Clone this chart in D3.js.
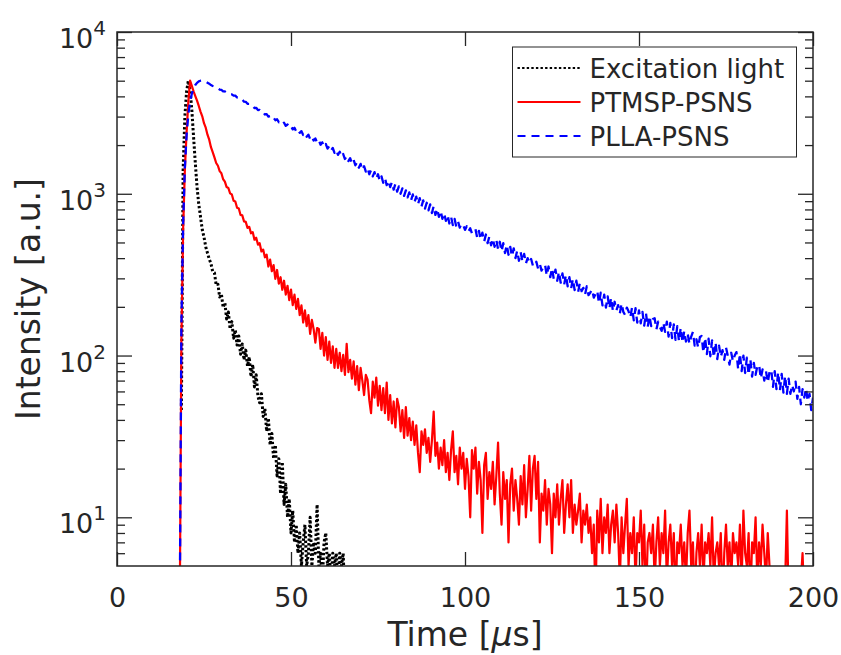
<!DOCTYPE html>
<html>
<head>
<meta charset="utf-8">
<script src="https://cdn.jsdelivr.net/npm/d3@7"></script>
<style>
    body { margin: 0; background: #ffffff; }
    svg text { font-family: "DejaVu Sans", Verdana, sans-serif; fill: #262626; }
</style>
</head>
<body>
<svg id="drawing_region"></svg>
<script>
// sampling of the decay traces (µs)
const sampleStart = 18;
const sampleStep = 0.5;

// intensity [a.u.], one value per sample, starting at sampleStart
const excitation = [
    null, 46, 1400, 3000, 4300, 5000, 4400, 3300, 2250, 1550,
    1100, 860, 720, 600, 540, 470, 430, 395, 370, 330,
    325, 272, 276, 230, 240, 198, 212, 168, 186, 146,
    162, 128, 144, 116, 132, 102, 118, 94, 108, 86,
    98, 74, 88, 64, 76, 56, 51, 58, 42, 47,
    34, 41, 28, 33, 23, 28, 18, 23, 14, 22,
    12, 16, 10, 13, 8, 11, 7, 9, 6, 8,
    5, 7, 9, 5, 6, 10, 5, 7, 6, 12,
    5, 6, 4, 7, 8, 5, 6, 4, 6, 5,
    6, 4, 6, 5, 6, 3
];

const ptmspPsns = [
    2, 120, 600, 1400, 2400, 3700, 5000, 4650, 4300, 4020,
    3760, 3490, 3220, 3010, 2730, 2560, 2320, 2160, 1940, 1810,
    1680, 1550, 1490, 1380, 1340, 1230, 1190, 1100, 1085, 1005,
    990, 905, 895, 820, 810, 740, 735, 675, 670, 615,
    625, 570, 580, 520, 535, 485, 495, 440, 452, 405,
    420, 355, 392, 332, 362, 298, 338, 278, 305, 255,
    290, 238, 270, 220, 256, 205, 238, 194, 224, 178,
    204, 160, 190, 152, 178, 136, 166, 146, 120, 148,
    146, 110, 138, 100, 130, 94, 122, 90, 114, 84,
    110, 84, 104, 80, 101, 76, 118, 79, 94, 72,
    92, 66, 86, 61, 84, 70, 57, 76, 71, 53,
    44, 69, 55, 73, 49, 65, 46, 63, 44, 68,
    40, 57, 38, 52, 36, 54, 48, 34, 46, 31,
    48, 32, 41, 30, 39, 28, 37, 25, 19, 34,
    28, 35, 25, 31, 22, 30, 45, 24, 29, 20,
    27, 21, 30, 19, 25, 17, 26, 34, 19, 24,
    16, 27, 20, 25, 15, 23, 18, 10, 26, 20,
    27, 14, 22, 17, 8, 21, 25, 13, 19, 15,
    22, 12, 18, 29, 14, 9, 19, 13, 17, 7,
    16, 20, 11, 17, 13, 9, 18, 12, 21, 10,
    15, 24, 11, 20, 24, 13, 22, 7, 14, 11,
    17, 9, 15, 12, 6, 14, 10, 16, 9, 13,
    17, 8, 12, 16, 10, 17, 8, 12, 9, 11,
    14, 7, 11, 9, 12, 8, 10, 6, 9, 3,
    11, 7, 13, 6, 10, 8, 12, 6, 9, 11,
    7, 12, 8, 4, 10, 6, 9, 13, 5, 8,
    6, 10, 4, 8, 7, 11, 5, 9, 3, 7,
    8, 6, 9, 4, 7, 10, 5, 8, 6, 11,
    4, 7, 9, 5, 8, 3, 7, 6, 9, 5,
    7, 4, 8, 11, 5, 7, 3, 6, 8, 5,
    9, 4, 7, 6, 8, 5, 10, 4, 6, 7,
    5, 8, 3, 6, 9, 5, 7, 4, 8, 6,
    7, 5, 9, 4, 11, 6, 5, 8, 3, 7,
    6, 10, 4, 7, 5, 9, 6, 4, 8, 5,
    4, 3, 4, 3, 4, 3, 4, 3, 4, 11,
    3, 4, 3, 4, 3, 4, 3, 4, 6, 3,
    4, 3, 4, 3, 4
];

const pllaPsns = [
    2, 150, 650, 1450, 2300, 3100, 3700, 4150, 4480, 4700,
    4850, 4950, 5000, 5020, 4990, 4930, 4860, 4790, 4700, 4640,
    4590, 4500, 4490, 4410, 4390, 4300, 4290, 4210, 4200, 4120,
    4120, 4040, 4040, 3940, 3930, 3820, 3820, 3710, 3700, 3600,
    3600, 3500, 3500, 3390, 3400, 3290, 3300, 3190, 3200, 3090,
    3110, 3000, 3020, 2910, 2950, 2850, 2890, 2770, 2810, 2700,
    2750, 2630, 2680, 2570, 2620, 2500, 2560, 2430, 2500, 2380,
    2440, 2310, 2380, 2250, 2320, 2180, 2260, 2130, 2200, 2070,
    2140, 2010, 2080, 1950, 2030, 1900, 1970, 1850, 1920, 1790,
    1870, 1740, 1820, 1690, 1760, 1640, 1710, 1590, 1660, 1540,
    1620, 1500, 1570, 1450, 1530, 1400, 1480, 1370, 1440, 1320,
    1400, 1280, 1360, 1240, 1320, 1200, 1280, 1170, 1250, 1130,
    1210, 1100, 1180, 1060, 1150, 1030, 1110, 1000, 1080, 970,
    1050, 950, 1020, 910, 990, 890, 960, 860, 940, 835,
    910, 810, 880, 790, 860, 760, 840, 740, 810, 720,
    785, 700, 760, 680, 740, 655, 720, 640, 700, 625,
    672, 618, 655, 640, 598, 630, 585, 612, 570, 596,
    605, 535, 590, 520, 575, 505, 560, 495, 545, 480,
    530, 470, 520, 455, 505, 440, 495, 430, 485, 420,
    470, 410, 460, 400, 445, 385, 435, 380, 425, 370,
    400, 372, 395, 360, 355, 380, 345, 368, 335, 352,
    365, 312, 355, 305, 347, 298, 340, 290, 330, 282,
    322, 275, 315, 268, 305, 260, 298, 254, 290, 247,
    280, 250, 262, 238, 268, 236, 245, 256, 228, 240,
    252, 210, 245, 204, 238, 198, 232, 195, 228, 188,
    215, 190, 205, 182, 210, 186, 178, 198, 188, 172,
    198, 165, 196, 160, 190, 158, 186, 153, 183, 150,
    176, 152, 168, 170, 145, 162, 150, 142, 160, 140,
    162, 131, 159, 128, 156, 125, 152, 122, 149, 120,
    142, 122, 136, 118, 131, 140, 115, 126, 112, 130,
    132, 104, 129, 102, 127, 99, 124, 97, 121, 95,
    115, 98, 108, 94, 112, 100, 88, 104, 92, 100,
    105, 82, 103, 80, 100, 78, 97, 76, 95, 74,
    90, 76, 86, 88, 72, 82, 70, 80, 68, 79,
    82, 64, 80, 62, 79, 61, 77, 59, 75, 58,
    72, 58, 66, 60, 69, 54, 64, 50, 62, 55,
    63, 52, 58, 46, 55
];

const seriesNames = [ "Excitation light", "PTMSP-PSNS", "PLLA-PSNS" ];
const xTicks = [ 0, 50, 100, 150, 200 ];
const yMajorTicks = [ 10, 100, 1000, 10000 ];
const yMinorTicks = [ 6, 7, 8, 9, 20, 30, 40, 50, 60, 70, 80, 90,
    200, 300, 400, 500, 600, 700, 800, 900,
    2000, 3000, 4000, 5000, 6000, 7000, 8000, 9000 ];

var config = {
    parent: '#drawing_region',
    width: 841,
    height: 655,
    margin: { top:32, right:28, bottom:89, left:117 }
};

const series = [
    { name: seriesNames[0], values: excitation, color: '#000000', width: 3,   dash: '2.4,2.2' },
    { name: seriesNames[1], values: ptmspPsns,  color: '#ff0000', width: 2.2, dash: null },
    { name: seriesNames[2], values: pllaPsns,   color: '#0000ff', width: 2.3, dash: '8,6' }
];

class DecayChart {

    constructor( config, series ) {
        this.config = config;
        this.series = series;
        this.init();
    }

    init() {
        let self = this;

        self.svg = d3.select( self.config.parent )
            .attr( 'width', self.config.width )
            .attr( 'height', self.config.height );

        self.svg.append( 'rect' )
            .attr( 'width', self.config.width )
            .attr( 'height', self.config.height )
            .attr( 'fill', '#ffffff' );

        self.inner_width = self.config.width - self.config.margin.left - self.config.margin.right;
        self.inner_height = self.config.height - self.config.margin.top - self.config.margin.bottom;

        self.chart = self.svg.append( 'g' )
            .attr( 'transform', `translate(${self.config.margin.left}, ${self.config.margin.top})` );

        self.xscale = d3.scaleLinear()
            .domain( [0, 200] )
            .range( [0, self.inner_width] );

        self.yscale = d3.scaleLog()
            .domain( [5, 10000] )
            .range( [self.inner_height, 0] );

        self.chart.append( 'clipPath' )
            .attr( 'id', 'plot_clip' )
            .append( 'rect' )
            .attr( 'width', self.inner_width )
            .attr( 'height', self.inner_height );

        self.line = d3.line()
            .defined( d => d.v != null )
            .x( d => self.xscale( d.t ) )
            .y( d => self.yscale( d.v ) );
    }

    render() {
        let self = this;

        // traces
        self.chart.append( 'g' )
            .attr( 'clip-path', 'url(#plot_clip)' )
            .selectAll( 'path' )
            .data( self.series )
            .enter()
            .append( 'path' )
            .attr( 'd', s => self.line( s.values.map( (v, i) => ({ t: sampleStart + i * sampleStep, v: v }) ) ) )
            .attr( 'fill', 'none' )
            .attr( 'stroke', s => s.color )
            .attr( 'stroke-width', s => s.width )
            .attr( 'stroke-dasharray', s => s.dash )
            .attr( 'stroke-linejoin', 'round' );

        // axes, ticks pointing inward on all four sides
        const w = self.inner_width, h = self.inner_height;
        const axes = [
            { a: d3.axisBottom( self.xscale ).tickValues( xTicks ).tickSizeInner( -14 ).tickPadding( 22 ), t: `translate(0,${h})` },
            { a: d3.axisTop( self.xscale ).tickValues( xTicks ).tickSizeInner( -14 ).tickFormat( '' ), t: 'translate(0,0)' },
            { a: d3.axisLeft( self.yscale ).tickValues( yMajorTicks ).tickSizeInner( -15 ).tickFormat( '' ), t: 'translate(0,0)' },
            { a: d3.axisLeft( self.yscale ).tickValues( yMinorTicks ).tickSizeInner( -8 ).tickFormat( '' ), t: 'translate(0,0)' },
            { a: d3.axisRight( self.yscale ).tickValues( yMajorTicks ).tickSizeInner( -15 ).tickFormat( '' ), t: `translate(${w},0)` },
            { a: d3.axisRight( self.yscale ).tickValues( yMinorTicks ).tickSizeInner( -8 ).tickFormat( '' ), t: `translate(${w},0)` }
        ];
        axes.forEach( ax => {
            const g = self.chart.append( 'g' )
                .attr( 'transform', ax.t )
                .call( ax.a.tickSizeOuter( 0 ) );
            g.select( '.domain' ).remove();
            g.selectAll( 'line' ).attr( 'stroke', '#262626' ).attr( 'stroke-width', 1.3 );
            g.selectAll( 'text' )
                .style( 'font-size', '27px' )
                .attr( 'fill', '#262626' )
                .attr( 'font-family', null );
        });

        // log tick labels 10^n
        const ylabels = self.chart.append( 'g' )
            .selectAll( 'text' )
            .data( yMajorTicks )
            .enter()
            .append( 'text' )
            .attr( 'x', -11 )
            .attr( 'y', d => self.yscale( d ) + 16 )
            .attr( 'text-anchor', 'end' )
            .style( 'font-size', '27px' );
        ylabels.append( 'tspan' ).text( '10' );
        ylabels.append( 'tspan' )
            .attr( 'dy', -13 )
            .style( 'font-size', '20px' )
            .text( d => Math.round( Math.log10( d ) ) );

        // frame
        self.chart.append( 'rect' )
            .attr( 'width', w )
            .attr( 'height', h )
            .attr( 'fill', 'none' )
            .attr( 'stroke', '#262626' )
            .attr( 'stroke-width', 1.5 );

        // axis titles
        const xt = self.chart.append( 'text' )
            .attr( 'x', w / 2 )
            .attr( 'y', h + 80 )
            .attr( 'text-anchor', 'middle' )
            .style( 'font-size', '33px' );
        xt.append( 'tspan' ).text( 'Time [' );
        xt.append( 'tspan' ).style( 'font-style', 'italic' ).text( 'μ' );
        xt.append( 'tspan' ).text( 's]' );

        self.chart.append( 'text' )
            .attr( 'transform', `translate(-77, ${h / 2}) rotate(-90)` )
            .attr( 'text-anchor', 'middle' )
            .style( 'font-size', '33px' )
            .text( 'Intensity [a.u.]' );

        // legend
        const legend = self.svg.append( 'g' )
            .attr( 'transform', 'translate(512.5, 47)' );
        legend.append( 'rect' )
            .attr( 'width', 284 )
            .attr( 'height', 110 )
            .attr( 'fill', '#ffffff' )
            .attr( 'stroke', '#262626' )
            .attr( 'stroke-width', 1 );
        const rows = legend.selectAll( 'g.row' )
            .data( self.series )
            .enter()
            .append( 'g' )
            .attr( 'transform', (s, i) => `translate(0, ${30.5 + i * 34})` );
        rows.append( 'line' )
            .attr( 'x1', 5 )
            .attr( 'x2', 68 )
            .attr( 'y1', -9.5 )
            .attr( 'y2', -9.5 )
            .attr( 'stroke', s => s.color )
            .attr( 'stroke-width', s => Math.min( s.width, 2 ) )
            .attr( 'stroke-dasharray', s => s.dash );
        rows.append( 'text' )
            .attr( 'x', 77 )
            .attr( 'y', 0 )
            .style( 'font-size', '26px' )
            .text( s => s.name );
    }
}

const chart = new DecayChart( config, series );
chart.render();
</script>
</body>
</html>
